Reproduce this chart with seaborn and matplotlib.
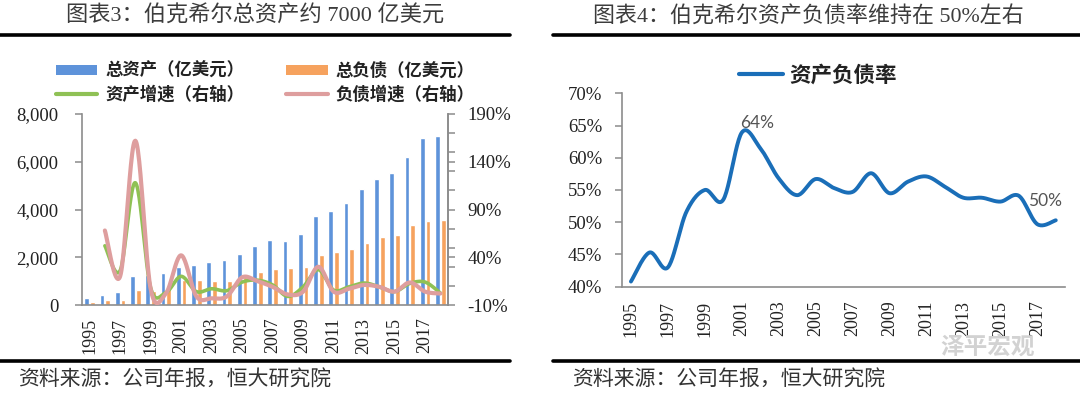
import numpy as np
import pandas as pd
import matplotlib
matplotlib.use("Agg")
import matplotlib.pyplot as plt
import seaborn as sns
from matplotlib.patches import Patch
from matplotlib.lines import Line2D

# ---------------- data ----------------
years = list(range(1995, 2019))
total_assets = [280, 430, 545, 1215, 1250, 1353, 1604, 1688, 1801, 1885, 2123, 2484,
                2735, 2680, 2961, 3728, 3937, 4287, 4858, 5263, 5529, 6199, 7006, 7090]
total_liab = [110, 195, 225, 610, 600, 700, 1045, 1047, 1005, 1005, 1200, 1382,
              1508, 1536, 1604, 2100, 2233, 2346, 2584, 2848, 2945, 3351, 3505, 3560]
asset_growth = [np.nan, 52, 26, 118, 8, 3, 20, 4, 7, 5, 14, 16,
                11, -1, 9, 27, 5.6, 9, 13, 9, 4, 12.6, 14, 2.5]
liab_growth = [np.nan, 68, 20, 162, 7, 2, 42, -1, -3, -1, 19, 15,
               9, 1, 4, 30, 4, 7, 11, 9, 4, 13.6, 4, 2]
debt_ratio = [40.8, 45.3, 43.0, 51.6, 55.0, 53.5, 63.9, 61.5, 56.8, 54.2, 56.7, 55.3,
              54.7, 57.6, 54.5, 56.3, 57.1, 55.5, 53.8, 53.8, 53.2, 54.1, 49.7, 50.3]

left_title = "图表3：伯克希尔总资产约 7000 亿美元"
right_title = "图表4：伯克希尔资产负债率维持在 50%左右"
source = "资料来源：公司年报，恒大研究院"
lbl_assets = "总资产（亿美元）"
lbl_liab = "总负债（亿美元）"
lbl_ag = "资产增速（右轴）"
lbl_lg = "负债增速（右轴）"
lbl_ratio = "资产负债率"

# ---------------- style ----------------
sns.set_theme(style="white")
plt.rcParams["font.family"] = ["Noto Sans CJK SC", "DejaVu Sans"]
SERIF = ["Liberation Serif", "Noto Sans CJK SC"]

BLUE = "#5E93DA"
ORANGE = "#F6A25E"
GREEN = "#8FC155"
PINK = "#DE9E9E"
LINEBLUE = "#1A6EB8"
SPINE = "#8C8C8C"
TXT = "#222222"


def smooth(xs, ys, n=24):
    """Catmull-Rom rendering through the given points (display smoothing only)."""
    pts = [(x, y) for x, y in zip(xs, ys) if not np.isnan(y)]
    P = np.array(pts, dtype=float)
    out = []
    for i in range(len(P) - 1):
        p0 = P[i - 1] if i > 0 else P[i]
        p1 = P[i]
        p2 = P[i + 1]
        p3 = P[i + 2] if i + 2 < len(P) else P[i + 1]
        for t in np.linspace(0, 1, n, endpoint=(i == len(P) - 2)):
            t2, t3 = t * t, t * t * t
            pt = 0.5 * ((2 * p1) + (-p0 + p2) * t + (2 * p0 - 5 * p1 + 4 * p2 - p3) * t2
                        + (-p0 + 3 * p1 - 3 * p2 + p3) * t3)
            out.append(pt)
    out = np.array(out)
    return pd.DataFrame({"x": out[:, 0], "y": out[:, 1]})


fig = plt.figure(figsize=(10.8, 3.96), dpi=100)

# ---------------- left chart ----------------
ax = fig.add_axes([82 / 1080, 1 - 305 / 396, (448 - 82) / 1080, (305 - 114) / 396])
df = pd.DataFrame({
    "year": [str(y) for y in years] * 2,
    "series": [lbl_assets] * len(years) + [lbl_liab] * len(years),
    "value": total_assets + total_liab,
})
sns.barplot(data=df, x="year", y="value", hue="series", palette=[BLUE, ORANGE],
            width=0.75, gap=0.15, saturation=1, legend=False, ax=ax)
ax.set_xlim(-0.5, len(years) - 0.5)
ax.set_ylim(0, 8000)
ax.set_xlabel("")
ax.set_ylabel("")
ax.set_yticks([0, 2000, 4000, 6000, 8000])
ax.set_yticklabels([f"{v:,}" for v in [0, 2000, 4000, 6000, 8000]],
                   fontfamily=SERIF, fontsize=13.5, color=TXT)
ax.set_xticks(range(0, len(years), 2))
ax.set_xticklabels([str(y) for y in years[::2]], rotation=90,
                   fontfamily=SERIF, fontsize=13, color=TXT)
ax.set_xticks(np.arange(-0.5, len(years), 1), minor=True)
ax.tick_params(axis="x", which="major", length=0, pad=9)
ax.tick_params(axis="x", which="minor", length=5, width=1.1, color=SPINE, direction="out")
ax.tick_params(axis="y", which="major", length=5, width=1.1, color=SPINE,
               direction="out", left=True, pad=12)
for s in ["left", "bottom", "right"]:
    ax.spines[s].set_color(SPINE)
    ax.spines[s].set_linewidth(1.2)
ax.spines["top"].set_visible(False)

ax2 = ax.twinx()
sa = smooth(range(len(years)), asset_growth)
sl = smooth(range(len(years)), liab_growth)
sns.lineplot(data=sa, x="x", y="y", sort=False, estimator=None, color=GREEN, lw=2.6, ax=ax2)
sns.lineplot(data=sl, x="x", y="y", sort=False, estimator=None, color=PINK, lw=3.0, ax=ax2)
ax2.set_xlim(-0.5, len(years) - 0.5)
ax2.set_ylim(-10, 190)
ax2.set_xlabel("")
ax2.set_ylabel("")
ax2.set_yticks([-10, 40, 90, 140, 190])
ax2.set_yticklabels([f"{v}%" for v in [-10, 40, 90, 140, 190]],
                    fontfamily=SERIF, fontsize=13.5, color=TXT)
ax2.set_yticks(np.arange(-10, 191, 20), minor=True)
ax2.tick_params(axis="y", which="both", length=5, width=1.1, color=SPINE,
                direction="out", right=True, pad=9)
for s in ["left", "top", "bottom"]:
    ax2.spines[s].set_visible(False)
ax2.spines["right"].set_color(SPINE)
ax2.spines["right"].set_linewidth(1.2)

handles = [Patch(facecolor=BLUE, edgecolor="none"),
           Line2D([], [], color=GREEN, lw=3),
           Patch(facecolor=ORANGE, edgecolor="none"),
           Line2D([], [], color=PINK, lw=3)]
labels = [lbl_assets, lbl_ag, lbl_liab, lbl_lg]
fig.legend(handles, labels, ncol=2, loc="center", bbox_to_anchor=(265 / 1080, 1 - 83 / 396),
           frameon=False, prop={"family": ["Noto Sans CJK SC"], "size": 12.5, "weight": "bold"},
           handlelength=2.4, handleheight=0.55, handletextpad=0.45, columnspacing=2.4,
           labelspacing=0.35, labelcolor=TXT)

# ---------------- right chart ----------------
bx = fig.add_axes([621.7 / 1080, 1 - 286.7 / 396, (1065 - 621.7) / 1080, (286.7 - 93.3) / 396])
sr = smooth(range(len(years)), debt_ratio)
sns.lineplot(data=sr, x="x", y="y", sort=False, estimator=None, color=LINEBLUE, lw=2.8, ax=bx)
bx.set_xlim(-0.5, len(years) - 0.5)
bx.set_ylim(40, 70)
bx.set_xlabel("")
bx.set_ylabel("")
bx.set_yticks(range(40, 71, 5))
bx.set_yticklabels([f"{v}%" for v in range(40, 71, 5)], fontfamily=SERIF, fontsize=13.5, color=TXT)
bx.set_xticks(range(0, len(years), 2))
bx.set_xticklabels([str(y) for y in years[::2]], rotation=90,
                   fontfamily=SERIF, fontsize=13, color=TXT)
bx.set_xticks(np.arange(-0.5, len(years), 1), minor=True)
bx.tick_params(axis="x", which="major", length=0, pad=10)
bx.tick_params(axis="x", which="minor", length=6, width=1.1, color=SPINE, direction="out")
bx.tick_params(axis="y", which="major", length=5, width=1.1, color=SPINE,
               direction="out", left=True, pad=9)
for s in ["left", "bottom"]:
    bx.spines[s].set_color(SPINE)
    bx.spines[s].set_linewidth(1.2)
for s in ["top", "right"]:
    bx.spines[s].set_visible(False)

i_max = int(np.argmax(debt_ratio))
bx.annotate(f"{debt_ratio[i_max]:.0f}%", xy=(i_max, debt_ratio[i_max]), xytext=(11, 1.5),
            textcoords="offset points", ha="center", va="bottom",
            fontfamily=["Lato", "DejaVu Sans"], fontsize=12.5, color="#555555")
bx.annotate(f"{debt_ratio[-1]:.0f}%", xy=(len(years) - 1, debt_ratio[-1]), xytext=(-8, 14),
            textcoords="offset points", ha="center", va="center",
            fontfamily=["Lato", "DejaVu Sans"], fontsize=12.5, color="#555555")

fig.legend([Line2D([], [], color=LINEBLUE, lw=3)], [lbl_ratio], loc="center",
           bbox_to_anchor=(818 / 1080, 1 - 75 / 396), frameon=False,
           prop={"family": ["Noto Sans CJK SC"], "size": 15.5, "weight": "bold"},
           handlelength=2.0, handletextpad=0.3, labelcolor=TXT)

# ---------------- titles, rules, sources ----------------
fig.text(255 / 1080, 1 - 16 / 396, left_title, ha="center", va="center",
         fontfamily=SERIF, fontsize=16, color="#3c3c3c")
fig.text(808 / 1080, 1 - 16 / 396, right_title, ha="center", va="center",
         fontfamily=SERIF, fontsize=15.8, color="#3c3c3c")
for (x0, x1) in [(0, 510), (553, 1080)]:
    for y in [34.5, 360.5]:
        fig.add_artist(Line2D([x0 / 1080, x1 / 1080], [1 - y / 396, 1 - y / 396],
                              transform=fig.transFigure, color="black", lw=2.6))
fig.text(18 / 1080, 1 - 380 / 396, source, ha="left", va="center", fontsize=15, color="#333333")
fig.text(572 / 1080, 1 - 380 / 396, source, ha="left", va="center", fontsize=15, color="#333333")
fig.text(940 / 1080, 1 - 347 / 396, "泽平宏观", ha="left", va="center", fontsize=17,
         color="#d2d2d2", fontweight="bold")

fig.savefig("out.png", dpi=100)
